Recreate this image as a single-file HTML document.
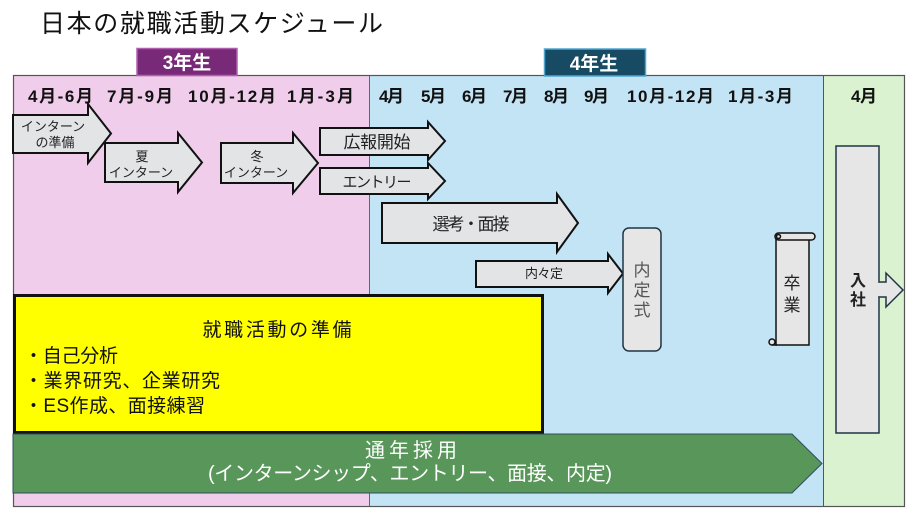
<!DOCTYPE html>
<html>
<head>
<meta charset="utf-8">
<style>
html,body{margin:0;padding:0;background:#fff;}
body{width:920px;height:518px;overflow:hidden;}
svg{display:block;}
text{font-family:"Liberation Sans","Noto Sans CJK JP",sans-serif;}
</style>
</head>
<body>
<svg width="920" height="518" viewBox="0 0 920 518" xmlns="http://www.w3.org/2000/svg">
  <!-- Title -->
  <text x="40" y="32" font-size="25" fill="#111" textLength="343">日本の就職活動スケジュール</text>

  <!-- Background regions -->
  <rect x="13" y="75" width="357" height="432" fill="#F1CDEC"/>
  <rect x="370" y="75" width="453" height="432" fill="#C3E4F5"/>
  <rect x="823" y="75" width="82" height="432" fill="#DAF2D0"/>
  <line x1="369.5" y1="75" x2="369.5" y2="507" stroke="#666" stroke-width="1"/>
  <line x1="823.5" y1="75" x2="823.5" y2="507" stroke="#555" stroke-width="1"/>
  <rect x="13.5" y="75.5" width="891" height="431" fill="none" stroke="#555" stroke-width="1.2"/>

  <!-- Year labels -->
  <rect x="137" y="48.5" width="100" height="27" fill="#782A78" stroke="#B25FB0" stroke-width="1.5"/>
  <text x="187" y="69" font-size="19" font-weight="bold" fill="#fff" text-anchor="middle">3年生</text>
  <rect x="544.5" y="49" width="101" height="27" fill="#174A63" stroke="#4FA6D2" stroke-width="1.5"/>
  <text x="594" y="70" font-size="19" font-weight="bold" fill="#fff" text-anchor="middle">4年生</text>

  <!-- Month labels -->
  <g font-size="17" font-weight="bold" fill="#111">
    <text x="28" y="102" textLength="65">4月-6月</text>
    <text x="107" y="102" textLength="66">7月-9月</text>
    <text x="188" y="102" textLength="88">10月-12月</text>
    <text x="287" y="102" textLength="67">1月-3月</text>
    <text x="379" y="102" textLength="25">4月</text>
    <text x="421" y="102" textLength="25">5月</text>
    <text x="462" y="102" textLength="25">6月</text>
    <text x="503" y="102" textLength="25">7月</text>
    <text x="544" y="102" textLength="25">8月</text>
    <text x="584" y="102" textLength="25">9月</text>
    <text x="627" y="102" textLength="87">10月-12月</text>
    <text x="728" y="102" textLength="65">1月-3月</text>
    <text x="851" y="102" textLength="26">4月</text>
  </g>

  <!-- Gray arrows -->
  <g fill="#E2E4E6" stroke="#111" stroke-width="2" stroke-linejoin="miter">
    <path d="M13,115 H88 V104 L111,133.5 L88,163 V153 H13 Z"/>
    <path d="M105,143 H178 V133 L202,162.5 L178,192 V182 H105 Z"/>
    <path d="M221,143 H293 V133 L318,163 L293,193 V183 H221 Z"/>
    <path d="M320,128 H428 V122 L445,141 L428,160 V155 H320 Z"/>
    <path d="M320,168 H428 V163 L445,181 L428,199 V194 H320 Z"/>
    <path d="M382,203 H557 V194 L578,223 L557,252 V243 H382 Z"/>
    <path d="M476,261 H608 V254 L623,273.5 L608,293 V287 H476 Z"/>
  </g>

  <!-- Arrow texts -->
  <g fill="#222" text-anchor="middle">
    <text x="53" y="131" font-size="13">インターン</text>
    <text x="55" y="147" font-size="13">の準備</text>
    <text x="142" y="161" font-size="13">夏</text>
    <text x="141" y="177" font-size="13">インターン</text>
    <text x="257" y="161" font-size="13">冬</text>
    <text x="256" y="177" font-size="13">インターン</text>
    <text x="377" y="148" font-size="17" textLength="67">広報開始</text>
    <text x="377" y="187" font-size="15" textLength="69">エントリー</text>
    <text x="471" y="230" font-size="17" textLength="77">選考・面接</text>
    <text x="544" y="278" font-size="13" textLength="38">内々定</text>
  </g>

  <!-- 内定式 -->
  <rect x="623" y="228" width="38" height="123" rx="6" ry="6" fill="#E6E6E6" stroke="#1F3545" stroke-width="1.5"/>
  <g font-size="17" fill="#555" text-anchor="middle">
    <text x="642" y="276">内</text>
    <text x="642" y="296">定</text>
    <text x="642" y="316">式</text>
  </g>

  <!-- 卒業 scroll -->
  <g fill="#E6E6E6" stroke="#111" stroke-width="1.5">
    <rect x="776" y="237" width="33" height="108"/>
    <rect x="775" y="233" width="40" height="7" rx="3.5" ry="3.5"/>
    <circle cx="778.5" cy="236.5" r="2"/>
    <circle cx="772" cy="342" r="3"/>
    <line x1="772" y1="345" x2="777" y2="345"/>
  </g>
  <g font-size="17" fill="#222" text-anchor="middle">
    <text x="792" y="289">卒</text>
    <text x="792" y="311">業</text>
  </g>

  <!-- 入社 -->
  <rect x="836" y="146" width="43" height="287" fill="#E6E6E6" stroke="#1F3545" stroke-width="1.5"/>
  <path d="M879,282 H886 V273 L903,290 L886,307 V297 H879" fill="#E6E6E6" stroke="#1F3545" stroke-width="1.5"/>
  <rect x="876" y="283" width="3" height="13" fill="#E6E6E6"/>
  <g font-size="16" font-weight="bold" fill="#222" text-anchor="middle">
    <text x="858" y="286">入</text>
    <text x="858" y="305">社</text>
  </g>

  <!-- Yellow box -->
  <rect x="14.5" y="295.5" width="528" height="137" fill="#FFFF00" stroke="#111" stroke-width="3"/>
  <g fill="#111" font-size="19">
    <text x="277" y="336" text-anchor="middle" textLength="149">就職活動の準備</text>
    <text x="24" y="362" textLength="94">・自己分析</text>
    <text x="24" y="387" textLength="196">・業界研究、企業研究</text>
    <text x="24" y="412" textLength="181">・ES作成、面接練習</text>
  </g>

  <!-- Green arrow -->
  <path d="M13,434 H792 L822,463.5 L792,493 H13 Z" fill="#58965A" stroke="#2E4F5E" stroke-width="1"/>
  <g fill="#fff" font-size="20">
    <text x="411" y="457" text-anchor="middle" textLength="92">通年採用</text>
    <text x="208" y="480" textLength="404">(インターンシップ、エントリー、面接、内定)</text>
  </g>
</svg>
</body>
</html>
